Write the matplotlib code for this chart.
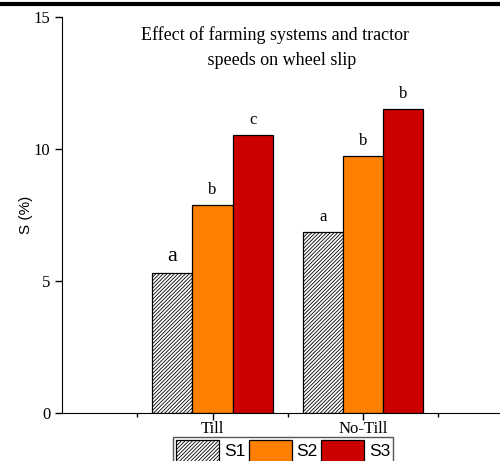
import numpy as np
import matplotlib
matplotlib.use("Agg")
import matplotlib.pyplot as plt
from matplotlib.lines import Line2D

# valeurs
systemes = ["Till", "No-Till"]
vitesses = ["S1", "S2", "S3"]
S1 = [5.32, 6.86]
S2 = [7.88, 9.75]
S3 = [10.53, 11.52]
lettres = [["a", "b", "c"], ["a", "b", "b"]]

couleurs = ["white", "#FF8000", "#CC0000"]
hachures = ["/////////", None, None]

plt.rcParams["hatch.linewidth"] = 0.6
serif = "Liberation Serif"

fig = plt.figure(figsize=(5, 4.61), dpi=100)
ax = fig.add_axes([0.124, 0.1041, 0.876, 0.859])

x = np.arange(1, len(systemes) + 1)
w = 0.267
series = [S1, S2, S3]
for i, (vals, nom) in enumerate(zip(series, vitesses)):
    ax.bar(x + (i - 1) * w, vals, w, color=couleurs[i], edgecolor="black",
           linewidth=0.9, hatch=hachures[i], label=nom)

# lettres de significativite
for j in range(len(systemes)):
    for i, vals in enumerate(series):
        taille = 16 if (j == 0 and i == 0) else 12
        ax.text(x[j] + (i - 1) * w, vals[j] + 0.25, lettres[j][i], ha="center",
                va="bottom", fontsize=taille, family=serif)

ax.set_xlim(0, 2.91)
ax.set_ylim(0, 15)
ax.set_yticks([0, 5, 10, 15])
ax.set_xticks(x)
ax.set_xticklabels(systemes)
ax.set_xticks([0.5, 1.5, 2.5], minor=True)
ax.tick_params(axis="both", which="major", direction="out", length=5, width=1,
               labelsize=12)
ax.tick_params(axis="x", which="major", pad=1)
ax.tick_params(axis="x", which="minor", direction="out", length=3, width=1)
for lab in ax.get_xticklabels() + ax.get_yticklabels():
    lab.set_family(serif)
ax.spines["top"].set_visible(False)
ax.spines["right"].set_visible(False)
ax.set_ylabel("S (%)", family="Liberation Sans", fontsize=11, labelpad=0)

ax.text(0.487, 0.977, "Effect of farming systems and tractor\n   speeds on wheel slip",
        transform=ax.transAxes, ha="center", va="top", fontsize=13,
        family=serif, linespacing=1.6)

fig.legend(loc="upper center", bbox_to_anchor=(0.566, 1 - 437 / 461), ncol=3,
           prop={"family": "Liberation Sans", "size": 12.5},
           handlelength=2.5, handleheight=1.6, handletextpad=0.25,
           columnspacing=0.2, borderpad=0.15, borderaxespad=0, fancybox=False,
           edgecolor="#555555", framealpha=1)

# trait du cadre en haut de l'image
fig.add_artist(Line2D([0, 1], [0.992, 0.992], transform=fig.transFigure,
                      color="black", linewidth=3))

fig.savefig("out.png", dpi=100)
